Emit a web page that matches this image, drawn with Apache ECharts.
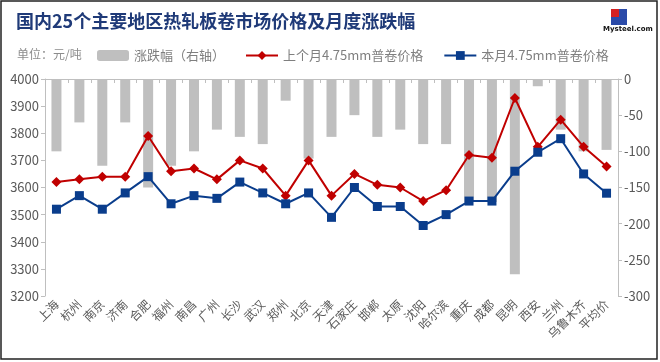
<!DOCTYPE html>
<html><head><meta charset="utf-8">
<script src="https://cdn.jsdelivr.net/npm/echarts@6/dist/echarts.min.js"></script>
<style>html,body{margin:0;padding:0;background:#fff}#c{width:660px;height:362px}</style>
</head><body><div id="c"></div>
<script>
const categories = ['上海','杭州','南京','济南','合肥','福州','南昌','广州','长沙','武汉','郑州','北京','天津','石家庄','邯郸','太原','沈阳','哈尔滨','重庆','成都','昆明','西安','兰州','乌鲁木齐','平均价'];
const changeValues = [-100,-60,-120,-60,-150,-120,-100,-70,-80,-90,-30,-110,-80,-50,-80,-70,-90,-90,-170,-170,-270,-10,-70,-100,-98];
const lastMonthPrice = [3620,3630,3640,3640,3790,3660,3670,3630,3700,3670,3570,3700,3570,3650,3610,3600,3550,3590,3720,3710,3930,3750,3850,3750,3677];
const thisMonthPrice = [3520,3570,3520,3580,3640,3540,3570,3560,3620,3580,3540,3580,3490,3600,3530,3530,3460,3500,3550,3550,3660,3730,3780,3650,3579];
const leftTicks = {min:3200, max:4000, interval:100};
const rightTicks = {min:-300, max:0, interval:50};
const names = ['涨跌幅（右轴）','上个月4.75mm普卷价格','本月4.75mm普卷价格'];

const chart = echarts.init(document.getElementById('c'));
const axisColor = '#bfbfbf';
const labelColor = '#595959';
const font = '"Noto Sans CJK SC", "Noto Sans", sans-serif';
chart.setOption({
  animation:false,
  backgroundColor:'#fff',
  textStyle:{fontFamily:font},
  title:[{text:'国内25个主要地区热轧板卷市场价格及月度涨跌幅', left:11, top:7,
    textStyle:{color:'#1f3a78', fontSize:18, fontWeight:'bold', fontFamily:font}},
    {text:'单位：元/吨', left:12, top:43, textStyle:{color:'#8c8c8c', fontSize:12, fontWeight:'normal', fontFamily:font}}],
  legend:{left:92, top:44, itemWidth:32, itemHeight:11, itemGap:20,
    textStyle:{color:'#7f7f7f', fontSize:13, fontFamily:font},
    data:names},
  graphic:[
    {type:'rect', shape:{x:1,y:1,width:656,height:358}, style:{fill:'none', stroke:'#222', lineWidth:1.5}, silent:true},
    {type:'rect', shape:{x:611,y:9,width:8,height:8}, style:{fill:'#d42020'}},
    {type:'rect', shape:{x:619,y:9,width:8,height:8}, style:{fill:'#2a4aa8'}},
    {type:'rect', shape:{x:611,y:17,width:8,height:8}, style:{fill:'#2a4aa8'}},
    {type:'rect', shape:{x:619,y:17,width:8,height:8}, style:{fill:'#2a4aa8'}},
    {type:'text', left:603, top:26, style:{text:'Mysteel.com', fill:'#111', fontSize:7, fontWeight:'bold', fontFamily:'DejaVu Sans'}}
  ],
  grid:{left:45, right:42, top:79, bottom:66},
  xAxis:{type:'category', data:categories, boundaryGap:true,
    axisLine:{lineStyle:{color:axisColor}},
    axisTick:{show:true, alignWithLabel:false, lineStyle:{color:axisColor}, length:4},
    axisLabel:{rotate:45, color:labelColor, fontSize:12, interval:0, margin:6, fontFamily:font}},
  yAxis:[
    {type:'value', min:leftTicks.min, max:leftTicks.max, interval:leftTicks.interval, position:'left',
     axisLine:{show:true, lineStyle:{color:axisColor}}, axisTick:{show:true, lineStyle:{color:axisColor}, length:4},
     splitLine:{show:false}, axisLabel:{color:labelColor, fontSize:13, margin:6, fontFamily:font, formatter:v=>String(v)}},
    {type:'value', min:rightTicks.min, max:rightTicks.max, interval:rightTicks.interval, position:'right',
     axisLine:{show:true, lineStyle:{color:axisColor}}, axisTick:{show:true, lineStyle:{color:axisColor}, length:4},
     splitLine:{show:false}, axisLabel:{color:labelColor, fontSize:13, margin:6, fontFamily:font, formatter:v=>String(v)}}
  ],
  series:[
    {name:names[0], type:'bar', yAxisIndex:1, data:changeValues, barWidth:10, itemStyle:{color:'#bfbfbf'}, z:1},
    {name:names[1], type:'line', yAxisIndex:0, data:lastMonthPrice, symbol:'diamond', symbolSize:10,
     lineStyle:{color:'#c00000', width:2}, itemStyle:{color:'#c00000'}, z:3},
    {name:names[2], type:'line', yAxisIndex:0, data:thisMonthPrice, symbol:'rect', symbolSize:9,
     lineStyle:{color:'#0a3d8c', width:2}, itemStyle:{color:'#0a3d8c'}, z:4}
  ]
});
</script></body></html>
